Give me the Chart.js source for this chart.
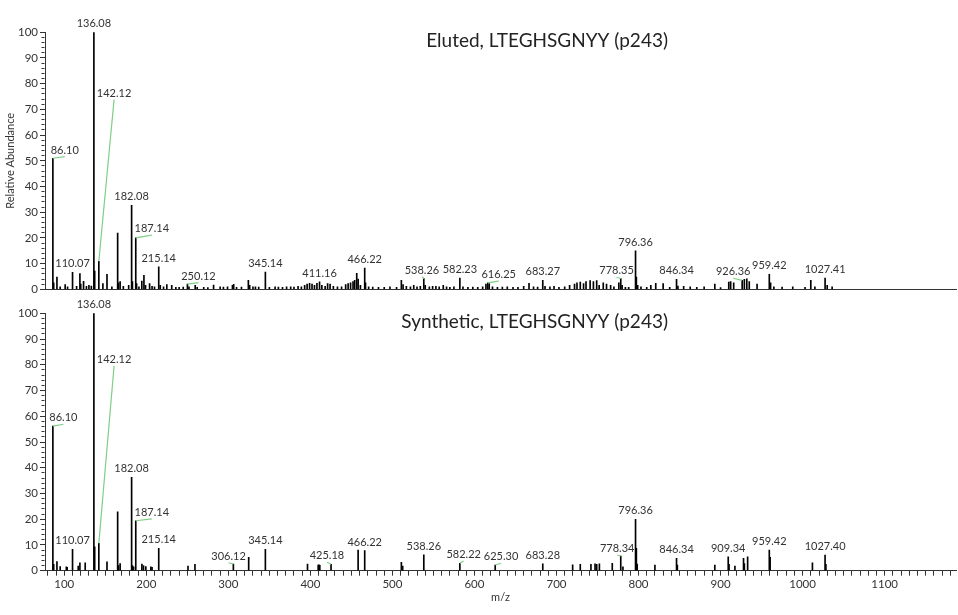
<!DOCTYPE html>
<html>
<head>
<meta charset="utf-8">
<script src="https://cdn.jsdelivr.net/npm/chart.js@4.4.1/dist/chart.umd.min.js"></script>
<style>
  body { margin: 0; background: #fff; }
  #wrap { position: relative; width: 958px; height: 615px; }
  canvas { position: absolute; left: 0; }
  #chartTop { top: 0; }
  #chartBot { top: 300px; }
</style>
</head>
<body>
<div id="wrap">
  <canvas id="chartTop" width="958" height="300"></canvas>
  <canvas id="chartBot" width="958" height="315"></canvas>
</div>
<script>
const mzMin = 76.5, mzMax = 1187;
const xTickLabels = [100, 200, 300, 400, 500, 600, 700, 800, 900, 1000, 1100];
const yTickLabels = [0, 10, 20, 30, 40, 50, 60, 70, 80, 90, 100];

// Eluted (panel superior)
const elutedMz = [86.10, 87.10, 91.05, 95, 101.07, 104, 110.07, 115, 119.05, 120.08, 123.5, 127, 130.05, 133,
  136.08, 137.08, 142.12, 147.08, 152.07, 158, 165.06, 166.05, 168.08, 172, 178.5, 182.08, 183.08, 187.14, 188.14,
  191, 194.5, 197.1, 199, 204, 207, 210, 215.14, 217, 221, 225, 231, 236, 240, 245, 250.12, 252, 259.6, 262, 270,
  275, 282, 290, 294, 299, 305, 306.5, 310, 316, 324.4, 326, 330, 333, 337, 345.14, 350, 357, 361, 366, 371, 376,
  380, 385, 389, 393, 396, 399, 402, 405, 408, 411.16, 414, 418, 421, 424, 428, 433, 438, 443, 446, 449, 452, 454,
  456.5, 458.2, 461, 466.22, 467.2, 471, 476, 483, 490, 497, 505, 510.9, 513, 517, 522, 526, 530, 534, 538.26, 540,
  545, 549, 553, 557, 562, 566, 570, 575, 582.23, 586, 592, 598, 604, 610, 614, 616.25, 618, 622, 628, 634, 640,
  647, 653, 660, 666.5, 672, 677, 683.27, 686, 692, 697, 703, 710, 716, 722, 725, 729, 733, 736, 741, 745, 749,
  752, 757, 761, 766, 770, 776, 778.35, 780, 784, 788, 796.36, 797.36, 799, 803, 810, 815, 821, 830, 838, 846.34,
  848, 855, 863, 871, 880, 893, 900, 910, 912.3, 916, 926.36, 929, 932, 935, 944.5, 959.42, 961, 965, 975, 988,
  1003, 1010, 1015, 1027.41, 1030, 1036];
const elutedInt = [51, 2.5, 4.8, 1.0, 1.8, 1.0, 6.6, 1.2, 6.1, 2.0, 3.1, 1.2, 1.5, 1.3,
  100, 7.1, 10.9, 2.2, 5.8, 1.0, 21.9, 2.5, 3.0, 1.2, 1.5, 32.7, 3.0, 20, 2.2,
  1.0, 3.2, 5.4, 1.5, 2.2, 1.2, 1.0, 8.7, 1.5, 1.0, 1.8, 1.5, 0.8, 0.8, 0.9, 2.0, 1.0, 1.5, 0.8, 0.8,
  0.7, 1.6, 1.0, 0.9, 1.0, 1.5, 1.9, 0.8, 0.9, 3.5, 1.5, 1.0, 1.0, 0.9, 6.7, 0.8, 1.0, 0.9, 0.8, 1.0, 1.0,
  0.9, 1.2, 1.0, 1.5, 2.0, 2.3, 2.0, 1.5, 2.3, 2.9, 1.5, 1.2, 2.2, 2.0, 1.2, 1.0, 1.0, 1.8, 2.2, 2.5, 3.0, 3.5,
  6.2, 4.0, 1.5, 8.3, 2.5, 1.0, 0.9, 0.8, 0.8, 1.0, 0.8, 3.5, 1.8, 1.2, 1.0, 1.5, 1.0, 1.2, 4.2, 1.5,
  1.0, 1.2, 1.2, 1.0, 1.5, 1.0, 0.8, 1.0, 4.4, 1.0, 0.8, 0.9, 0.8, 1.0, 2.0, 2.5, 2.2, 1.0, 0.8, 0.9, 1.0,
  0.8, 0.8, 1.2, 2.3, 1.0, 0.9, 3.5, 1.2, 1.0, 1.2, 0.8, 1.0, 1.5, 2.0, 2.5, 2.8, 2.2, 3.0, 3.4, 3.0, 3.4,
  1.5, 2.5, 2.0, 1.5, 1.0, 2.5, 4.2, 1.5, 0.8, 0.8, 15, 4.8, 1.5, 1.0, 0.8, 1.5, 2.3, 2.2, 0.8, 3.9,
  1.3, 1.2, 1.0, 0.8, 1.0, 2.0, 0.7, 2.8, 3.0, 2.5, 3.5, 3.9, 4.1, 3.0, 2.0, 5.8, 2.5, 1.0, 0.9, 1.0,
  0.8, 3.5, 1.0, 4.4, 1.5, 1.0];
const elutedLabels = ['86.10', '110.07', '136.08', '142.12', '182.08', '187.14', '215.14', '250.12', '345.14',
  '411.16', '466.22', '538.26', '582.23', '616.25', '683.27', '778.35', '796.36', '846.34', '926.36', '959.42', '1027.41'];
// etiquetas con linea verde: [texto, m/z del ancla, abundancia del ancla]
const elutedLeaders = [['86.10', 100.6, 51.6], ['142.12', 160.7, 73.8], ['187.14', 206.7, 21.1],
  ['250.12', 263.6, 2.6], ['538.26', 536.0, 4.9], ['616.25', 629.5, 3.2], ['778.35', 773.2, 4.7], ['926.36', 915.4, 4.3]];

// Synthetic (panel inferior)
const syntheticMz = [86.10, 87.10, 91.05, 95, 102.5, 103.5, 110.07, 117, 119.05, 125.5, 136.08, 137.08, 142.12,
  152.07, 165.06, 166.06, 168.08, 182.08, 183.08, 184.5, 187.14, 194.6, 196.6, 199.4, 205.5, 207, 215.14, 250.8,
  259.3, 306.12, 324.8, 345.14, 396.5, 409.5, 410.5, 411.5, 425.18, 458.2, 466.22, 510.9, 512.5, 538.26, 582.22,
  625.30, 683.28, 719.7, 729, 742, 747, 749, 752.3, 768, 778.34, 781, 796.36, 797.36, 798.36, 820, 846.34, 847.34,
  893, 909.34, 910.34, 917.5, 928, 929, 933, 959.42, 960.42, 1012, 1027.40, 1028.40];
const syntheticInt = [56.2, 2.5, 3.5, 1.6, 1.5, 1.3, 8.3, 1.8, 3.1, 3.1, 100, 9.3, 10.6,
  3.4, 22.9, 2.0, 2.8, 36.3, 2.0, 1.5, 19.4, 2.6, 2.0, 1.6, 1.5, 1.3, 8.7, 1.8,
  2.5, 2.6, 5.2, 8.3, 2.6, 2.2, 2.3, 2.1, 2.5, 8.0, 7.8, 3.3, 1.8, 6.2, 2.9,
  2.2, 2.7, 2.3, 2.5, 2.5, 2.7, 2.5, 2.7, 2.9, 5.7, 1.5, 20, 8.7, 2.6, 2.2, 4.8, 2.2,
  2.2, 5.4, 2.5, 1.8, 4.8, 2.8, 5.4, 8.0, 5.2, 3.1, 6.1, 2.5];
const syntheticLabels = ['86.10', '110.07', '136.08', '142.12', '182.08', '187.14', '215.14', '306.12', '345.14',
  '425.18', '466.22', '538.26', '582.22', '625.30', '683.28', '778.34', '796.36', '846.34', '909.34', '959.42', '1027.40'];
const syntheticLeaders = [['86.10', 98.9, 56.9], ['142.12', 160.7, 79.5], ['187.14', 206.7, 20.1],
  ['306.12', 300.2, 3.1], ['425.18', 420.2, 3.3], ['582.22', 586.9, 3.8], ['625.30', 632.4, 2.9], ['778.34', 774.0, 6.1]];

const FONT = 'Lato';

// plugin: etiquetas de picos, lineas verdes y titulo del panel
function etiquetasPlugin(mzs, ints, labels, leaders, titulo, tx, ty) {
  return {
    id: 'etiquetas',
    afterDatasetsDraw(chart) {
      const { ctx, scales: { x, y } } = chart;
      ctx.save();
      ctx.font = `11px ${FONT}`;
      ctx.fillStyle = '#333';
      ctx.textAlign = 'center';
      ctx.textBaseline = 'alphabetic';
      labels.forEach(txt => {
        const mz = parseFloat(txt);
        let best = 0;
        mzs.forEach((m, i) => { if (Math.abs(m - mz) < Math.abs(mzs[best] - mz)) best = i; });
        const px = x.getPixelForValue(mz);
        const py = y.getPixelForValue(ints[best]);
        const lead = leaders.find(l => l[0] === txt);
        if (lead) {
          const ax = x.getPixelForValue(lead[1]);
          const ay = y.getPixelForValue(lead[2]);
          ctx.strokeStyle = '#7fcf86';
          ctx.lineWidth = 1.2;
          ctx.beginPath();
          ctx.moveTo(px, py);
          ctx.lineTo(ax, ay);
          ctx.stroke();
          ctx.fillText(txt, ax, ay - 3);
        } else {
          ctx.fillText(txt, px, py - 5);
        }
      });
      ctx.font = `19px ${FONT}`;
      ctx.textAlign = 'right';
      ctx.fillStyle = '#222';
      ctx.fillText(titulo, tx, ty);
      ctx.restore();
    }
  };
}

const menor = c => c.tick && Math.round(c.tick.value) % 10 !== 0;

function ejeY(titulo) {
  return {
    type: 'linear', min: 0, max: 100,
    afterBuildTicks: s => {
      const t = [];
      for (let v = 0; v <= 100; v += 2) t.push({ value: v });
      s.ticks = t;
    },
    afterFit: s => { s.width = 45; },
    border: { display: true, color: '#333', width: 1 },
    grid: {
      display: true, drawOnChartArea: false, drawTicks: true, tickLength: 5,
      tickColor: '#333', tickWidth: 1,
      tickBorderDash: c => menor(c) ? [3, 10] : [],
      tickBorderDashOffset: c => menor(c) ? 11.5 : 0
    },
    ticks: {
      autoSkip: false, padding: 2, color: '#333', font: { family: FONT, size: 11.5 },
      callback: v => yTickLabels.includes(v) ? v : ''
    },
    title: { display: !!titulo, text: titulo || '', color: '#333', font: { family: FONT, size: 11 }, padding: { top: 4, bottom: 0 } }
  };
}

function ejeX(conTicks) {
  const base = {
    type: 'linear', min: mzMin, max: mzMax, offset: false,
    border: { display: true, color: '#333', width: 1 }
  };
  if (!conTicks) {
    return Object.assign(base, {
      grid: { display: false, offset: false },
      ticks: { display: false },
      afterFit: s => { s.height = 0; }
    });
  }
  return Object.assign(base, {
    afterBuildTicks: s => {
      const t = [];
      for (let v = 80; v <= 1180; v += 10) t.push({ value: v });
      s.ticks = t;
    },
    afterFit: s => { s.height = 44.3; },
    grid: {
      display: true, offset: false, drawOnChartArea: false, drawTicks: true, tickLength: 5,
      tickColor: '#333', tickWidth: 1,
      tickBorderDash: c => menor(c) ? [3, 10] : [],
      tickBorderDashOffset: 0
    },
    ticks: {
      autoSkip: false, maxRotation: 0, padding: 2, color: '#333', font: { family: FONT, size: 11.5 },
      callback: v => xTickLabels.includes(v) ? v : ''
    },
    title: { display: true, text: 'm/z', color: '#333', font: { family: FONT, size: 11 }, padding: { top: 0, bottom: 11 } }
  });
}

function crearGrafico(id, mzs, ints, labels, leaders, titulo, tx, ty, abajo) {
  return new Chart(document.getElementById(id), {
    type: 'bar',
    data: {
      datasets: [{
        data: mzs.map((m, i) => ({ x: m, y: ints[i] })),
        backgroundColor: '#000',
        borderWidth: 0,
        barThickness: 1
      }]
    },
    options: {
      responsive: false,
      animation: false,
      devicePixelRatio: 1,
      layout: { padding: abajo ? { top: 13.3, right: 2, bottom: 0, left: 0 } : { top: 32.3, right: 2, bottom: 10.7, left: 0 } },
      plugins: { legend: { display: false }, tooltip: { enabled: false } },
      scales: {
        x: ejeX(abajo),
        y: ejeY(abajo ? null : 'Relative Abundance')
      }
    },
    plugins: [etiquetasPlugin(mzs, ints, labels, leaders, titulo, tx, ty)]
  });
}

crearGrafico('chartTop', elutedMz, elutedInt, elutedLabels, elutedLeaders,
  'Eluted, LTEGHSGNYY (p243)', 668, 46.7, false);
crearGrafico('chartBot', syntheticMz, syntheticInt, syntheticLabels, syntheticLeaders,
  'Synthetic, LTEGHSGNYY (p243)', 668, 28.3, true);
</script>
</body>
</html>
